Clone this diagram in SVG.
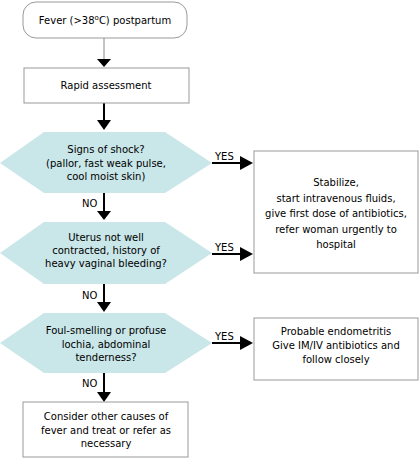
<svg xmlns="http://www.w3.org/2000/svg" width="420" height="472" viewBox="0 0 420 472">
<style>
text{font-family:"DejaVu Sans",Verdana,sans-serif;font-size:10px;fill:#000;text-anchor:middle}
.box{fill:#fff;stroke:#999;stroke-width:1}
.hex{fill:#c9e6e8;stroke:none}
.ln{stroke:#000;stroke-width:2;fill:none}
.ah{fill:#000}
.lbl{text-anchor:start}
</style>
<rect width="420" height="472" fill="#fff"/>
<g id="connectors">
<line x1="104" y1="38" x2="104" y2="59" stroke="#888" stroke-width="1"/>
<polygon class="ah" points="97,59 111,59 104,67"/>
<line class="ln" x1="104" y1="103" x2="104" y2="121"/>
<polygon class="ah" points="97,120 111,120 104,130"/>
<line class="ln" x1="104" y1="193" x2="104" y2="212"/>
<polygon class="ah" points="97,211 111,211 104,220"/>
<text class="lbl" x="82" y="207">NO</text>
<line class="ln" x1="104" y1="284" x2="104" y2="303"/>
<polygon class="ah" points="97,302 111,302 104,312"/>
<text class="lbl" x="82" y="299">NO</text>
<line class="ln" x1="104" y1="373" x2="104" y2="393"/>
<polygon class="ah" points="97,392 111,392 104,402"/>
<text class="lbl" x="82" y="387">NO</text>
<line class="ln" x1="212" y1="163" x2="241" y2="163"/>
<polygon class="ah" points="240,156 240,170 253,163"/>
<text class="lbl" x="215" y="160">YES</text>
<line class="ln" x1="212" y1="254" x2="241" y2="254"/>
<polygon class="ah" points="240,247 240,261 253,254"/>
<text class="lbl" x="215" y="251">YES</text>
<line class="ln" x1="212" y1="343" x2="241" y2="343"/>
<polygon class="ah" points="240,336 240,350 253,343"/>
<text class="lbl" x="215" y="340">YES</text>
</g>
<g id="start">
<rect class="box" x="23" y="2" width="164" height="36" rx="13"/>
<text x="105" y="24">Fever (&gt;38<tspan font-size="7" dy="-4">o</tspan><tspan dy="4">C) postpartum</tspan></text>
</g>
<g id="rapid">
<rect class="box" x="24" y="68" width="165" height="35"/>
<text x="106" y="89">Rapid assessment</text>
</g>
<g id="shock">
<polygon class="hex" points="0,163 44,132 165,132 212,163 165,193 44,193"/>
<text x="106" y="153">Signs of shock?</text>
<text x="106" y="167">(pallor, fast weak pulse,</text>
<text x="106" y="180">cool moist skin)</text>
</g>
<g id="uterus">
<polygon class="hex" points="0,253 44,222 165,222 212,253 165,284 44,284"/>
<text x="106" y="241">Uterus not well</text>
<text x="106" y="254">contracted, history of</text>
<text x="106" y="267">heavy vaginal bleeding?</text>
</g>
<g id="lochia">
<polygon class="hex" points="0,343 44,313 165,313 212,343 165,373 44,373"/>
<text x="106" y="334">Foul-smelling or profuse</text>
<text x="106" y="348">lochia, abdominal</text>
<text x="106" y="361">tenderness?</text>
</g>
<g id="other">
<rect class="box" x="23" y="402" width="165" height="55"/>
<text x="106" y="420">Consider other causes of</text>
<text x="106" y="434">fever and treat or refer as</text>
<text x="106" y="447">necessary</text>
</g>
<g id="stabilize">
<rect class="box" x="254" y="151" width="164" height="122"/>
<text x="336" y="186">Stabilize,</text>
<text x="336" y="201.5">start intravenous fluids,</text>
<text x="336" y="217">give first dose of antibiotics,</text>
<text x="336" y="232.5">refer woman urgently to</text>
<text x="336" y="248">hospital</text>
</g>
<g id="endometritis">
<rect class="box" x="254" y="318" width="164" height="62"/>
<text x="336" y="335">Probable endometritis</text>
<text x="336" y="349">Give IM/IV antibiotics and</text>
<text x="336" y="363">follow closely</text>
</g>
</svg>
